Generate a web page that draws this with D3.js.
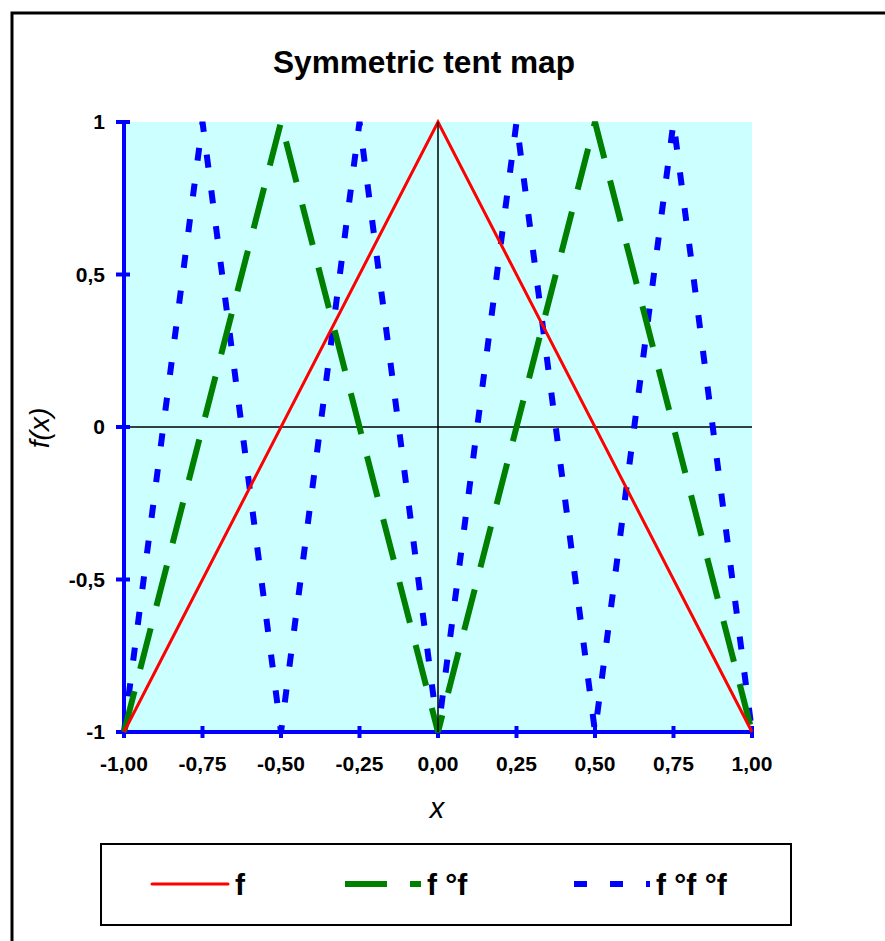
<!DOCTYPE html>
<html><head><meta charset="utf-8">
<script src="https://cdn.jsdelivr.net/npm/d3@7"></script>
<style>body{margin:0;background:#fff}svg{display:block}text{font-family:"Liberation Sans",Arial,sans-serif}</style>
</head><body><svg id="c" width="885" height="941"></svg>
<script>
// data (vertices)
const xF = [-1, 0, 1];
const yF = [-1, 1, -1];
const xFF = [-1, -0.5, 0, 0.5, 1];
const yFF = [-1, 1, -1, 1, -1];
const xFFF = [-1, -0.75, -0.5, -0.25, 0, 0.25, 0.5, 0.75, 1];
const yFFF = [-1, 1, -1, 1, -1, 1, -1, 1, -1];
const xTicks = [-1, -0.75, -0.5, -0.25, 0, 0.25, 0.5, 0.75, 1];
const xTickLabels = ["-1,00", "-0,75", "-0,50", "-0,25", "0,00", "0,25", "0,50", "0,75", "1,00"];
const yTicks = [-1, -0.5, 0, 0.5, 1];
const yTickLabels = ["-1", "-0,5", "0", "0,5", "1"];
const seriesNames = ["f", "f \u00b0f", "f \u00b0f \u00b0f"];

const svg = d3.select("#c");
const L = 124, R = 752, T = 122, B = 732;
const x = d3.scaleLinear().domain([-1, 1]).range([L, R]);
const y = d3.scaleLinear().domain([-1, 1]).range([B, T]);

// outer frame
svg.append("rect").attr("x", 12).attr("y", 13).attr("width", 900).attr("height", 960)
  .attr("fill", "none").attr("stroke", "#000").attr("stroke-width", 3);

// title
svg.append("text").attr("x", 424).attr("y", 73).attr("text-anchor", "middle")
  .attr("font-size", 31).attr("font-weight", "bold").attr("textLength", 302)
  .attr("lengthAdjust", "spacingAndGlyphs").text("Symmetric tent map");

// plot area
svg.append("rect").attr("x", L).attr("y", T).attr("width", R - L).attr("height", B - T).attr("fill", "#CCFFFF");

// zero line (horizontal)
svg.append("line").attr("x1", x(-1)).attr("x2", x(1)).attr("y1", y(0)).attr("y2", y(0))
  .attr("stroke", "#000").attr("stroke-width", 1.5);

const line = d3.line().x(d => x(d[0])).y(d => y(d[1]));
const series = [
  {xs: xF, ys: yF, color: "#FF0000", w: 3, dash: null},
  {xs: xFF, ys: yFF, color: "#008000", w: 6, dash: "42,23"},
  {xs: xFFF, ys: yFFF, color: "#0000FF", w: 6, dash: "13,23"}
];
// blue axes
const axG = svg.append("g");
axG.append("line").attr("x1", x(-1)).attr("x2", x(1)).attr("y1", y(-1)).attr("y2", y(-1))
  .attr("stroke", "#0000FF").attr("stroke-width", 4);
axG.append("line").attr("x1", x(-1)).attr("x2", x(-1)).attr("y1", y(-1)).attr("y2", y(1))
  .attr("stroke", "#0000FF").attr("stroke-width", 4);
axG.selectAll(".xt").data(xTicks).join("line")
  .attr("x1", d => x(d)).attr("x2", d => x(d)).attr("y1", y(-1) - 6).attr("y2", y(-1) + 6)
  .attr("stroke", "#0000FF").attr("stroke-width", 4);
axG.selectAll(".yt").data(yTicks).join("line")
  .attr("y1", d => y(d)).attr("y2", d => y(d)).attr("x1", x(-1) - 8).attr("x2", x(-1) + 6)
  .attr("stroke", "#0000FF").attr("stroke-width", 4);

// series
series.slice().reverse().forEach(s => {
  svg.append("path").datum(s.xs.map((v, i) => [v, s.ys[i]]))
    .attr("d", line).attr("fill", "none").attr("stroke", s.color)
    .attr("stroke-width", s.w).attr("stroke-dasharray", s.dash);
});

// zero line (vertical)
svg.append("line").attr("x1", x(0)).attr("x2", x(0)).attr("y1", y(-1)).attr("y2", y(1))
  .attr("stroke", "#000").attr("stroke-width", 1.5);

// tick labels
svg.selectAll(".xl").data(xTicks).join("text")
  .attr("x", d => x(d)).attr("y", 771).attr("text-anchor", "middle")
  .attr("font-size", 21).attr("font-weight", "bold")
  .text((d, i) => xTickLabels[i]);
svg.selectAll(".yl").data(yTicks).join("text")
  .attr("x", 105).attr("y", d => y(d) + 7).attr("text-anchor", "end")
  .attr("font-size", 21).attr("font-weight", "bold")
  .text((d, i) => yTickLabels[i]);

// axis titles
svg.append("text").attr("x", 437).attr("y", 818).attr("text-anchor", "middle")
  .attr("font-size", 29).attr("font-style", "italic").text("x");
svg.append("text").attr("transform", "translate(49,428) rotate(-90)").attr("text-anchor", "middle")
  .attr("font-size", 28).attr("font-style", "italic").text("f(x)");

// legend
svg.append("rect").attr("x", 101).attr("y", 844).attr("width", 690).attr("height", 81)
  .attr("fill", "#fff").attr("stroke", "#000").attr("stroke-width", 2);
const legX = [152, 345, 574];
const legTX = [235, 427, 656];
series.forEach((s, i) => {
  svg.append("line").attr("x1", legX[i]).attr("x2", legX[i] + 76).attr("y1", 884).attr("y2", 884)
    .attr("stroke", s.color).attr("stroke-width", s.w).attr("stroke-dasharray", s.dash)
    .attr("stroke-linecap", i === 0 ? "round" : "butt");
  svg.append("text").attr("x", legTX[i]).attr("y", 895).attr("font-size", 30)
    .attr("font-weight", "bold").text(seriesNames[i]);
});
</script></body></html>
